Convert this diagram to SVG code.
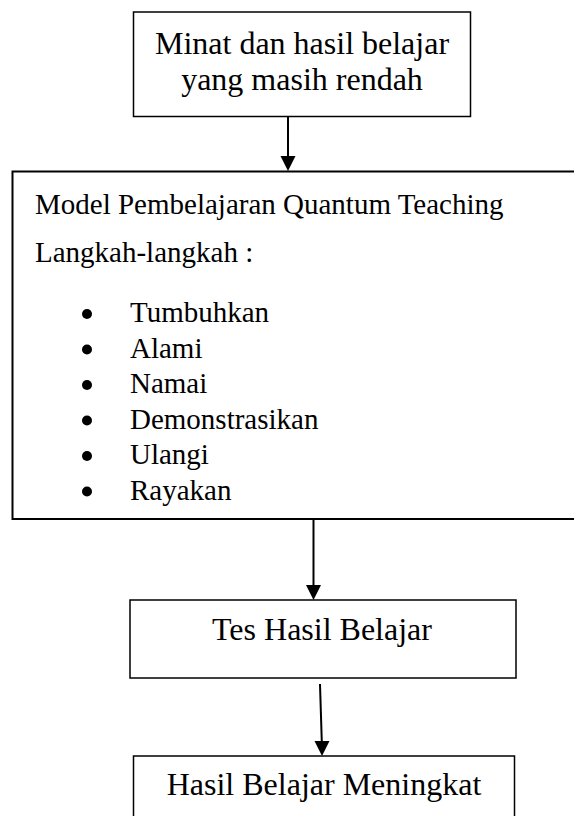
<svg xmlns="http://www.w3.org/2000/svg" width="574" height="816" viewBox="0 0 574 816">
<style>
.box{fill:#fff;stroke:#000;stroke-width:1.5}
.big{fill:#fff;stroke:#000;stroke-width:2}
.t{font-family:"Liberation Serif","Times New Roman",serif;fill:#000}
.c{font-size:32px;text-anchor:middle}
.l{font-size:29px}
.conn line{stroke:#000;stroke-width:2}
.conn polygon{fill:#000}
</style>
<g id="node-minat">
<rect class="box" x="133.5" y="12" width="337" height="104.5"/>
<text class="t c" x="302" y="54">Minat dan hasil belajar</text>
<text class="t c" x="302" y="90">yang masih rendah</text>
</g>
<g id="node-model">
<rect class="big" x="12.5" y="171.5" width="600" height="347.5"/>
<text class="t l" x="35" y="214">Model Pembelajaran Quantum Teaching</text>
<text class="t l" x="35" y="262">Langkah-langkah :</text>
<g fill="#000">
<circle cx="87" cy="314" r="5"/>
<circle cx="87" cy="349.5" r="5"/>
<circle cx="87" cy="385" r="5"/>
<circle cx="87" cy="420.5" r="5"/>
<circle cx="87" cy="456" r="5"/>
<circle cx="87" cy="491.5" r="5"/>
</g>
<text class="t l" x="130" y="322">Tumbuhkan</text>
<text class="t l" x="130" y="357.5">Alami</text>
<text class="t l" x="130" y="393">Namai</text>
<text class="t l" x="130" y="428.5">Demonstrasikan</text>
<text class="t l" x="130" y="464">Ulangi</text>
<text class="t l" x="130" y="499.5">Rayakan</text>
</g>
<g id="node-tes">
<rect class="box" x="130" y="600" width="386" height="78"/>
<text class="t c" x="322" y="640">Tes Hasil Belajar</text>
</g>
<g id="node-hasil">
<rect class="box" x="133.5" y="756" width="381" height="80"/>
<text class="t c" x="324" y="795">Hasil Belajar Meningkat</text>
</g>
<g id="connectors" class="conn">
<line x1="288" y1="116.5" x2="288" y2="157"/>
<polygon points="280.5,156 295.5,156 288,171"/>
<line x1="313.5" y1="519" x2="313.5" y2="586"/>
<polygon points="306,585 321,585 313.5,600"/>
<line x1="320" y1="684" x2="321.8" y2="742"/>
<polygon points="314.5,741 329.5,741 322,756"/>
</g>
</svg>
